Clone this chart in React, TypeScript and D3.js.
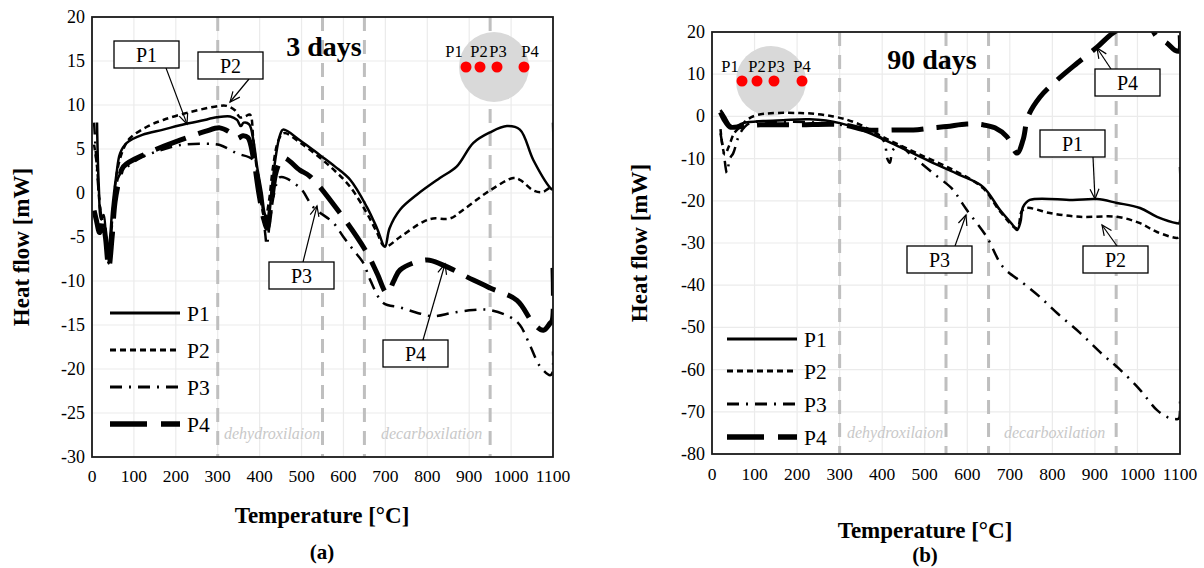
import React from 'react';
import * as d3 from 'd3';

type Pt = [number, number];

// ---------- Data ----------
const seriesNames = ['P1', 'P2', 'P3', 'P4'];
const xTickValues = [0, 100, 200, 300, 400, 500, 600, 700, 800, 900, 1000, 1100];
const yTicksA = [-30, -25, -20, -15, -10, -5, 0, 5, 10, 15, 20];
const yTicksB = [-80, -70, -60, -50, -40, -30, -20, -10, 0, 10, 20];
const phaseMarkers = [300, 550, 650, 950];

// 3 days
const a_P1: Pt[] = [[12, 8], [16, 1], [22, -3], [28, -2.5], [36, -6.5], [42, -5.5], [48, -2], [58, 2], [67, 4.5], [83, 5.7], [120, 6.6], [170, 7.2], [210, 7.7], [260, 8.2], [298, 8.6], [330, 8.7], [346, 8.3], [355, 7.6], [362, 8.0], [375, 7.8], [385, 6], [394, 3], [405, 0], [413, -2.5], [420, -3], [428, 0], [438, 4], [448, 6.5], [456, 7.2], [496, 6.0], [544, 4.3], [580, 3], [616, 1.5], [656, -1.6], [680, -4], [699, -6.1], [710, -4], [735, -1.9], [775, -0.2], [830, 1.7], [870, 3.0], [910, 5.7], [950, 6.9], [990, 7.6], [1021, 7.2], [1053, 3.75], [1093, 0.6], [1098, 0.4], [1100, 8]];
const a_P2: Pt[] = [[5, 5.5], [12, 3], [20, -2], [30, -4], [40, -6.5], [50, -2], [60, 2.5], [75, 5], [90, 6.2], [130, 7.5], [170, 8.3], [234, 9.2], [305, 9.9], [321, 9.9], [341, 9.4], [353, 8.6], [365, 8.7], [377, 8.9], [385, 6.0], [395, 2], [405, -1.5], [413, -3], [422, -1], [432, 3], [445, 6], [458, 6.8], [500, 5.6], [544, 4], [580, 2.5], [616, 0.7], [656, -2.3], [680, -4.5], [699, -6.1], [735, -5], [789, -3.3], [814, -2.9], [854, -2.9], [886, -1.9], [950, 0.3], [1005, 1.7], [1021, 1.5], [1053, 0.3], [1075, 0.1], [1093, 0.6], [1100, 0.6]];
const a_P3: Pt[] = [[5, 8], [10, 4], [18, -1], [25, -3.5], [33, -5], [40, -8], [47, -4], [55, 0], [65, 2], [90, 3.2], [120, 4.1], [154, 4.7], [210, 5.45], [274, 5.6], [305, 5.45], [346, 4.5], [385, 3.75], [400, 1], [413, -4.5], [417, -5.9], [425, -3], [435, 0], [449, 1.8], [496, 0.6], [528, -1.6], [576, -3.4], [600, -5], [624, -6.5], [648, -8], [664, -9.9], [695, -12.5], [735, -13], [775, -13.6], [814, -14], [862, -13.6], [910, -13.3], [950, -13.3], [998, -14.1], [1021, -15], [1045, -17.3], [1069, -19.7], [1093, -20.7], [1098, -20.5], [1100, -18]];
const a_P4: Pt[] = [[5, -2], [10, -3], [18, -4.5], [25, -3], [32, -5], [40, -8.5], [48, -5], [55, -1], [65, 1.5], [75, 3], [131, 4.5], [210, 6], [270, 7.0], [305, 7.4], [329, 6.9], [346, 6.2], [360, 6.5], [372, 6.3], [385, 4], [398, 0], [410, -3], [418, -4], [428, -1], [440, 2.5], [456, 4], [496, 2.6], [520, 1.9], [592, -2.3], [656, -6.8], [680, -9.1], [704, -11.4], [720, -10], [735, -8.75], [799, -7.6], [838, -8.2], [910, -9.9], [950, -10.8], [1014, -12.2], [1053, -14.8], [1077, -15.6], [1093, -14.8], [1098, -14.5], [1100, -8.5]];

// 90 days
const b_P1: Pt[] = [[20, 1.5], [30, 0], [42, -2], [52, -2.5], [73, -1.6], [120, -1.1], [167, -0.9], [230, -0.7], [301, -1.6], [364, -3.7], [442, -7.3], [519, -11], [583, -13.9], [637, -16.7], [677, -22.2], [705, -25.5], [717, -26.9], [725, -25], [731, -21.5], [747, -19.8], [848, -19.8], [905, -19.6], [952, -20.5], [1006, -21.7], [1046, -23.8], [1093, -25.3], [1098, -25.3], [1100, -12]];
const b_P2: Pt[] = [[20, -3], [30, -9], [40, -7], [52, -4], [66, -2.5], [80, -1], [105, 0.3], [207, 0.8], [285, 0], [340, -1.6], [402, -4.9], [481, -8.7], [567, -12.7], [637, -17], [677, -22.5], [717, -26.5], [728, -22.5], [740, -21.7], [794, -22.9], [865, -23.8], [952, -23.8], [1006, -25.3], [1046, -27.4], [1093, -28.8], [1100, -28.5]];
const b_P3: Pt[] = [[20, -4], [28, -9], [35, -13.4], [42, -10], [50, -8.7], [66, -4], [89, -1.6], [150, -1.3], [250, -1.5], [330, -2.5], [390, -4.5], [405, -6], [412, -10], [418, -11], [425, -8], [440, -7], [473, -9.6], [519, -13.4], [567, -17.4], [583, -19.8], [599, -22.2], [646, -28.6], [684, -35.7], [731, -39.5], [771, -42.8], [811, -46.6], [865, -51.3], [919, -56.5], [959, -60], [1006, -64.8], [1046, -69.6], [1076, -71.5], [1095, -71.7], [1098, -71.5], [1100, -66.7]];
const b_P4: Pt[] = [[20, 1], [30, -1], [42, -2.5], [60, -2.5], [113, -2], [200, -2], [308, -2], [364, -3.2], [434, -3.2], [473, -3.2], [519, -2.7], [552, -2.4], [599, -1.8], [637, -2], [665, -2.7], [693, -4.8], [717, -8.7], [731, -5.6], [743, 0], [771, 4.6], [811, 8.6], [858, 12.6], [905, 16.4], [943, 19.8], [990, 22], [1030, 21], [1046, 18.8], [1069, 17.4], [1088, 15.7], [1098, 15.5], [1100, 20]];

// ---------- Styles ----------
const lineStyles = [
  { dash: 'none', width: 2.5 },
  { dash: '6,4', width: 2.5 },
  { dash: '12,7,2,7', width: 2.5 },
  { dash: '32,13', width: 5 },
];

const FONT = '"Liberation Serif", "Times New Roman", serif';

type Callout = { label: string; box: [number, number]; tip: Pt; from: 'top' | 'bottom'; fromX: number };

type PanelProps = {
  id: string;
  left: number; right: number; top: number; bottom: number;
  yDomain: [number, number];
  yTicks: number[];
  series: Pt[][];
  title: string; titleX: number; titleY: number;
  circle: { cx: number; cy: number; dots: number[]; labelX: number[]; labelY: number };
  legend: { x0: number; x1: number; ys: number[] };
  callouts: Callout[];
  dehydroX: number; decarbX: number; phaseLabelY: number;
  xLabelX: number; xLabelY: number; tickLabelY: number; yLabelX: number; yLabelY: number;
  axisFont: number;
  panelLabel: string; panelLabelY: number;
};

function Arrow({ from, tip }: { from: Pt; tip: Pt }) {
  const ang = Math.atan2(tip[1] - from[1], tip[0] - from[0]);
  const L = 11, spread = 0.42;
  const a1: Pt = [tip[0] - L * Math.cos(ang - spread), tip[1] - L * Math.sin(ang - spread)];
  const a2: Pt = [tip[0] - L * Math.cos(ang + spread), tip[1] - L * Math.sin(ang + spread)];
  return (
    <g stroke="#000" strokeWidth={1.2} fill="none">
      <line x1={from[0]} y1={from[1]} x2={tip[0]} y2={tip[1]} />
      <path d={`M${a1[0]},${a1[1]}L${tip[0]},${tip[1]}L${a2[0]},${a2[1]}`} />
    </g>
  );
}

function Panel(p: PanelProps) {
  const x = d3.scaleLinear().domain([0, 1100]).range([p.left, p.right]);
  const y = d3.scaleLinear().domain(p.yDomain).range([p.bottom, p.top]);
  const line = d3.line<Pt>().x(d => x(d[0])).y(d => y(d[1])).curve(d3.curveCatmullRom.alpha(0.5));
  const boxW = 65, boxH = 27;
  return (
    <g fontFamily={FONT}>
      <defs>
        <clipPath id={`clip-${p.id}`}>
          <rect x={p.left} y={p.top} width={p.right - p.left} height={p.bottom - p.top} />
        </clipPath>
      </defs>
      <rect x={p.left} y={p.top} width={p.right - p.left} height={p.bottom - p.top} fill="#fff" />
      {xTickValues.map(t => (
        <line key={`gx${t}`} x1={x(t)} x2={x(t)} y1={p.top} y2={p.bottom} stroke="#ebebeb" strokeWidth={1.2} />
      ))}
      {p.yTicks.map(t => (
        <line key={`gy${t}`} x1={p.left} x2={p.right} y1={y(t)} y2={y(t)} stroke="#ebebeb" strokeWidth={1.2} />
      ))}
      {phaseMarkers.map(t => (
        <line key={`pm${t}`} x1={x(t)} x2={x(t)} y1={p.top} y2={p.bottom} stroke="#bfbfbf" strokeWidth={3} strokeDasharray="14,9" />
      ))}
      <text x={p.dehydroX} y={p.phaseLabelY} fontSize={16} fontStyle="italic" fill="#c8c8c8">dehydroxilaion</text>
      <text x={p.decarbX} y={p.phaseLabelY} fontSize={16} fontStyle="italic" fill="#c8c8c8">decarboxilation</text>
      <circle cx={p.circle.cx} cy={p.circle.cy} r={35} fill="#d9d9d9" />
      {p.circle.dots.map((dx, i) => (
        <circle key={`dot${i}`} cx={dx} cy={p.circle.cy} r={5.5} fill="#ff0000" />
      ))}
      {p.circle.labelX.map((lx, i) => (
        <text key={`cl${i}`} x={lx} y={p.circle.labelY} fontSize={16.5} textAnchor="middle">{seriesNames[i]}</text>
      ))}
      <g clipPath={`url(#clip-${p.id})`}>
        {p.series.map((s, i) => (
          <path key={`s${i}`} d={line(s) || ''} fill="none" stroke="#000"
            strokeWidth={lineStyles[i].width} strokeDasharray={lineStyles[i].dash} strokeLinejoin="round" />
        ))}
      </g>
      <rect x={p.left} y={p.top} width={p.right - p.left} height={p.bottom - p.top} fill="none" stroke="#1a1a1a" strokeWidth={1.8} />
      <text x={p.titleX} y={p.titleY} fontSize={28} fontWeight="bold" textAnchor="middle">{p.title}</text>
      {seriesNames.map((n, i) => (
        <g key={`lg${i}`}>
          <line x1={p.legend.x0} x2={p.legend.x1} y1={p.legend.ys[i]} y2={p.legend.ys[i]} stroke="#000"
            strokeWidth={lineStyles[i].width + (i === 3 ? 0.5 : 0.6)} strokeDasharray={i === 3 ? '37,14' : lineStyles[i].dash} />
          <text x={p.legend.x1 + 7} y={p.legend.ys[i] + 7.5} fontSize={21.5}>{n}</text>
        </g>
      ))}
      {p.callouts.map((c, i) => {
        const fy = c.from === 'top' ? c.box[1] : c.box[1] + boxH;
        return (
          <g key={`co${i}`}>
            <Arrow from={[c.fromX, fy]} tip={c.tip} />
            <rect x={c.box[0]} y={c.box[1]} width={boxW} height={boxH} fill="#fff" stroke="#000" strokeWidth={1.3} />
            <text x={c.box[0] + boxW / 2} y={c.box[1] + 20.5} fontSize={20} textAnchor="middle">{c.label}</text>
          </g>
        );
      })}
      {xTickValues.map(t => (
        <text key={`xt${t}`} x={x(t)} y={p.tickLabelY} fontSize={17.5} textAnchor="middle">{t}</text>
      ))}
      {p.yTicks.map(t => (
        <text key={`yt${t}`} x={p.left - 7} y={y(t) + 6} fontSize={18} textAnchor="end">{t}</text>
      ))}
      <text x={p.xLabelX} y={p.xLabelY} fontSize={p.axisFont} fontWeight="bold" textAnchor="middle">Temperature [°C]</text>
      <text transform={`translate(${p.yLabelX},${p.yLabelY}) rotate(-90)`} fontSize={p.axisFont} fontWeight="bold" textAnchor="middle">Heat flow [mW]</text>
      <text x={p.xLabelX} y={p.panelLabelY} fontSize={21} fontWeight="bold" textAnchor="middle">{p.panelLabel}</text>
    </g>
  );
}

export default function App() {
  return (
    <div style={{ position: 'absolute', left: 0, top: 0 }}>
      <svg width={1204} height={568} viewBox="0 0 1204 568" style={{ display: 'block', background: '#fff' }}>
        <Panel id="a" left={92} right={553} top={17} bottom={457} yDomain={[-30, 20]} yTicks={yTicksA}
          series={[a_P1, a_P2, a_P3, a_P4]}
          title="3 days" titleX={324} titleY={56}
          circle={{ cx: 494, cy: 67, dots: [466, 480, 497, 524], labelX: [454, 479, 498, 530], labelY: 57 }}
          legend={{ x0: 110, x1: 180, ys: [313, 350, 387, 424] }}
          callouts={[
            { label: 'P1', box: [114, 41], tip: [187, 124], from: 'bottom', fromX: 166 },
            { label: 'P2', box: [198, 52], tip: [230, 102], from: 'bottom', fromX: 249 },
            { label: 'P3', box: [269, 262], tip: [317, 206], from: 'top', fromX: 303 },
            { label: 'P4', box: [383, 340], tip: [445, 264], from: 'top', fromX: 423 },
          ]}
          dehydroX={224} decarbX={381} phaseLabelY={439}
          xLabelX={322} xLabelY={523} tickLabelY={482} yLabelX={29} yLabelY={247}
          axisFont={23}
          panelLabel="(a)" panelLabelY={559} />
        <Panel id="b" left={712} right={1180} top={32} bottom={454} yDomain={[-80, 20]} yTicks={yTicksB}
          series={[b_P1, b_P2, b_P3, b_P4]}
          title="90 days" titleX={932} titleY={69}
          circle={{ cx: 771, cy: 81, dots: [742, 757, 774, 802], labelX: [730, 757, 776, 802], labelY: 72 }}
          legend={{ x0: 727, x1: 797, ys: [339, 371, 404, 437] }}
          callouts={[
            { label: 'P4', box: [1095, 69], tip: [1097, 48], from: 'top', fromX: 1111 },
            { label: 'P1', box: [1040, 130], tip: [1095, 199], from: 'bottom', fromX: 1093 },
            { label: 'P2', box: [1083, 246], tip: [1102, 225], from: 'top', fromX: 1117 },
            { label: 'P3', box: [907, 246], tip: [966, 215], from: 'top', fromX: 955 },
          ]}
          dehydroX={847} decarbX={1004} phaseLabelY={438}
          xLabelX={925} xLabelY={538} tickLabelY={480} yLabelX={647} yLabelY={243}
          axisFont={23}
          panelLabel="(b)" panelLabelY={562} />
      </svg>
    </div>
  );
}
